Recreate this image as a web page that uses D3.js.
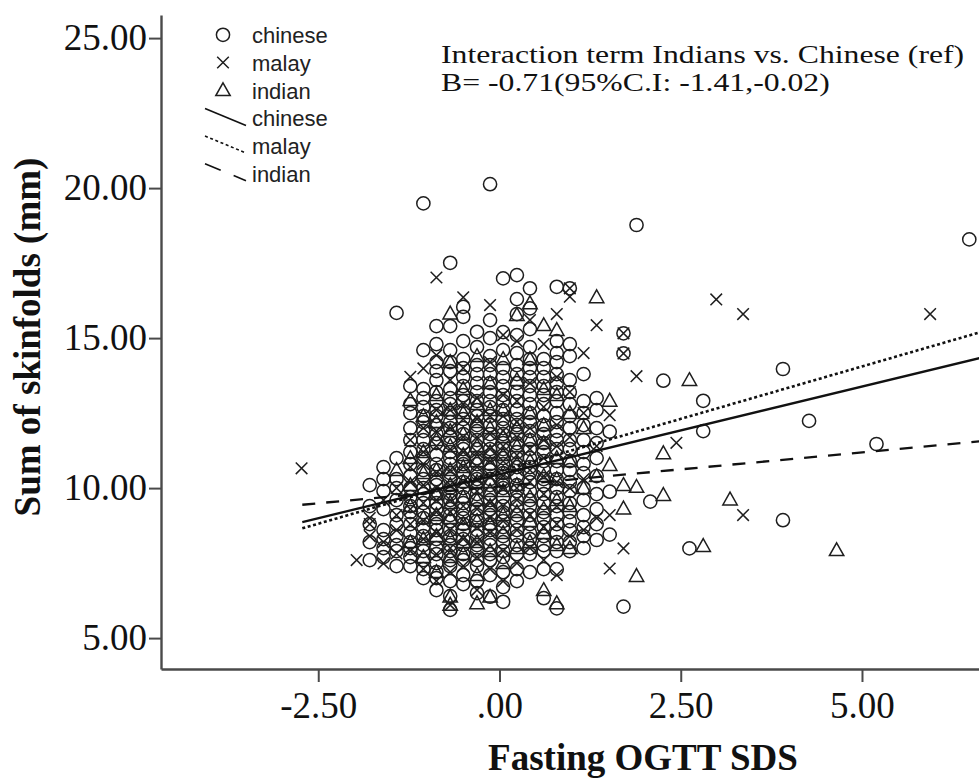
<!DOCTYPE html>
<html>
<head>
<meta charset="utf-8">
<script src="https://cdn.jsdelivr.net/npm/d3@7"></script>
<style>
  body { margin: 0; background: #fff; }
  svg { display: block; }
</style>
</head>
<body>
<svg id="chart" width="979" height="783"></svg>
<script>
// ---- data ---------------------------------------------------------------
const groups = ["chinese", "malay", "indian"];

const xTicks = [-2.5, 0, 2.5, 5];
const xTickLabels = ["-2.50", ".00", "2.50", "5.00"];
const yTicks = [5, 10, 15, 20, 25];
const yTickLabels = ["5.00", "10.00", "15.00", "20.00", "25.00"];

// [Fasting OGTT SDS, [sum of skinfolds ...]] per observed SDS value
const chineseCols = [
  [-1.79, [10.1, 9.4, 8.8, 8.2, 7.6]],
  [-1.60, [10.7, 10.3, 9.9, 9.3, 8.6, 8.3, 8.0, 7.7]],
  [-1.42, [15.84, 11.0, 10.3, 10.0, 9.6, 9.1, 8.8, 8.4, 8.1, 7.9, 7.4]],
  [-1.23, [13.4, 12.8, 12.5, 12.0, 11.6, 11.2, 10.8, 10.4, 10.0, 9.7, 9.4, 9.2, 8.8, 8.5, 8.2, 8.0, 7.7, 7.4]],
  [-1.05, [19.49, 14.6, 13.3, 13.0, 12.7, 12.4, 12.2, 11.9, 11.6, 11.3, 11.0, 10.6, 10.3, 10.0, 9.8, 9.5, 9.2, 9.0, 8.7, 8.4, 8.1, 7.9, 7.6, 7.3, 7.0]],
  [-0.87, [15.4, 14.8, 14.2, 13.9, 13.6, 13.2, 12.9, 12.6, 12.4, 12.1, 11.8, 11.5, 11.1, 10.8, 10.6, 10.3, 10.1, 9.8, 9.5, 9.3, 9.0, 8.8, 8.6, 8.3, 8.0, 7.8, 7.5, 7.2, 7.0, 6.6]],
  [-0.68, [17.51, 15.4, 14.6, 14.2, 13.9, 13.3, 13.0, 12.8, 12.5, 12.2, 12.0, 11.7, 11.5, 11.2, 11.0, 10.8, 10.5, 10.3, 10.0, 9.8, 9.6, 9.3, 9.1, 8.9, 8.6, 8.4, 8.1, 7.9, 7.6, 7.4, 6.9, 6.4, 5.94]],
  [-0.50, [16.04, 15.71, 14.9, 14.3, 14.0, 13.7, 13.4, 13.1, 12.9, 12.6, 12.3, 12.0, 11.8, 11.5, 11.3, 11.0, 10.8, 10.5, 10.2, 10.0, 9.7, 9.5, 9.3, 9.0, 8.8, 8.6, 8.3, 8.1, 7.8, 7.6, 7.1, 6.8]],
  [-0.31, [15.21, 14.7, 14.1, 13.8, 13.5, 13.2, 12.9, 12.6, 12.4, 12.1, 11.9, 11.6, 11.3, 11.0, 10.8, 10.5, 10.3, 10.0, 9.8, 9.6, 9.3, 9.1, 8.9, 8.6, 8.4, 8.1, 7.9, 7.6, 7.4, 6.9, 6.5]],
  [-0.13, [20.13, 15.6, 15.0, 14.4, 14.1, 13.8, 13.5, 13.2, 12.9, 12.7, 12.4, 12.1, 11.8, 11.6, 11.3, 11.1, 10.8, 10.6, 10.3, 10.1, 9.8, 9.6, 9.3, 9.1, 8.8, 8.6, 8.3, 8.1, 7.8, 7.6, 7.1, 6.38]],
  [0.05, [16.99, 15.2, 14.6, 14.0, 13.7, 13.4, 13.1, 12.9, 12.6, 12.3, 12.0, 11.8, 11.5, 11.3, 11.0, 10.8, 10.5, 10.2, 10.0, 9.7, 9.4, 9.2, 8.9, 8.7, 8.4, 8.2, 7.9, 7.7, 7.2, 6.7, 6.21]],
  [0.24, [17.1, 16.3, 15.8, 15.1, 14.5, 14.1, 13.8, 13.5, 13.2, 12.9, 12.6, 12.3, 12.1, 11.8, 11.5, 11.2, 11.0, 10.7, 10.4, 10.1, 9.9, 9.6, 9.4, 9.1, 8.9, 8.6, 8.4, 8.1, 7.8, 7.3, 6.9]],
  [0.42, [16.66, 15.99, 15.3, 14.7, 14.3, 14.0, 13.7, 13.4, 13.1, 12.8, 12.5, 12.2, 11.9, 11.6, 11.3, 11.0, 10.7, 10.5, 10.2, 9.9, 9.6, 9.4, 9.1, 8.8, 8.5, 8.3, 8.0, 7.8, 7.2]],
  [0.61, [14.3, 14.0, 13.7, 13.4, 13.1, 12.8, 12.4, 12.1, 11.8, 11.5, 11.2, 10.9, 10.6, 10.3, 10.1, 9.8, 9.5, 9.2, 9.0, 8.7, 8.4, 8.1, 7.9, 7.3, 6.33]],
  [0.79, [16.71, 14.9, 14.5, 14.2, 13.8, 13.5, 13.2, 12.9, 12.5, 12.2, 11.9, 11.6, 11.3, 10.9, 10.6, 10.3, 10.0, 9.7, 9.4, 9.1, 8.8, 8.5, 8.2, 7.9, 7.3, 5.99]],
  [0.97, [16.66, 14.8, 14.4, 13.6, 13.2, 12.8, 12.4, 12.0, 11.6, 11.3, 10.9, 10.6, 10.2, 9.9, 9.5, 9.2, 8.9, 8.6, 8.2, 7.9]],
  [1.16, [13.8, 12.9, 12.5, 12.1, 11.6, 11.2, 10.8, 10.5, 10.0, 9.6, 9.1, 8.7, 8.4, 8.0]],
  [1.34, [13.0, 12.6, 12.0, 11.5, 11.0, 10.4, 9.8, 9.3, 8.8, 8.27]],
  [1.52, [11.88, 9.88, 8.45]],
  [1.71, [15.16, 14.49, 6.05]],
  [1.89, [18.77]],
  [2.08, [9.55]],
  [2.26, [13.58]],
  [2.62, [7.99]],
  [2.81, [12.91, 11.9]],
  [3.91, [13.97, 8.93]],
  [4.27, [12.24]],
  [5.20, [11.47]],
  [6.48, [18.29]]
];

const malayCols = [
  [-2.73, [10.66]],
  [-1.97, [7.6]],
  [-1.79, [9.0, 8.8, 8.4]],
  [-1.60, [9.6, 8.2, 7.49]],
  [-1.42, [10.0, 9.1, 8.6, 7.82]],
  [-1.23, [13.71, 11.6, 10.7, 10.2, 9.3, 8.8, 7.9]],
  [-1.05, [13.99, 12.0, 11.2, 10.8, 10.1, 9.5, 8.9, 8.3, 7.3]],
  [-0.87, [17.02, 14.43, 12.6, 11.9, 11.4, 10.5, 10.0, 9.6, 9.2, 8.5, 7.8, 6.9]],
  [-0.68, [13.6, 12.6, 12.0, 11.3, 10.6, 10.1, 9.6, 9.2, 8.6, 8.0, 7.2, 6.1]],
  [-0.50, [16.36, 14.0, 12.8, 12.3, 11.7, 11.2, 10.7, 10.2, 9.4, 8.9, 8.3, 7.4]],
  [-0.31, [13.0, 12.3, 11.7, 11.2, 10.7, 10.3, 9.9, 9.3, 8.7, 8.2, 7.7, 6.6]],
  [-0.13, [16.1, 14.2, 12.4, 11.8, 11.3, 10.9, 10.4, 9.5, 9.0, 8.5, 7.3]],
  [0.05, [15.1, 13.1, 12.4, 11.9, 11.4, 10.9, 10.4, 10.0, 9.4, 8.9, 7.9, 6.9]],
  [0.24, [14.9, 12.9, 12.2, 11.7, 11.1, 10.6, 10.0, 9.6, 8.6, 7.5]],
  [0.42, [15.6, 13.5, 12.0, 11.3, 10.6, 10.2, 9.1, 8.0]],
  [0.61, [14.8, 12.7, 11.6, 11.0, 10.4, 9.8, 8.7, 7.6]],
  [0.79, [15.8, 13.7, 12.1, 11.4, 10.2, 9.4, 8.8, 7.1]],
  [0.97, [16.66, 16.38, 13.2, 11.7, 10.0, 8.4]],
  [1.16, [14.5, 12.5, 10.3, 8.6]],
  [1.34, [15.43, 11.4, 9.0]],
  [1.52, [12.43, 9.1, 7.32]],
  [1.71, [15.16, 14.49, 7.99]],
  [1.89, [13.73]],
  [2.44, [11.51]],
  [2.99, [16.29]],
  [3.36, [15.8, 9.1]],
  [5.94, [15.8]]
];

const indianCols = [
  [-1.42, [10.6]],
  [-1.23, [12.93, 11.0, 10.1, 9.4, 8.2]],
  [-1.05, [12.4, 11.2, 10.5, 9.0, 8.3, 7.7]],
  [-0.87, [13.1, 12.2, 11.6, 10.6, 9.8, 9.1, 8.4, 7.2]],
  [-0.68, [15.82, 14.2, 12.6, 11.9, 11.4, 10.6, 10.1, 9.5, 9.0, 8.3, 7.7, 6.38, 6.11]],
  [-0.50, [13.3, 12.5, 11.8, 11.1, 10.7, 10.2, 9.7, 8.8, 8.2, 7.8]],
  [-0.31, [14.4, 12.8, 12.2, 11.4, 10.9, 10.2, 9.6, 8.9, 8.2, 7.1, 6.16]],
  [-0.13, [13.5, 12.6, 12.0, 11.2, 10.8, 10.2, 9.9, 9.4, 8.8, 7.9, 6.38]],
  [0.05, [14.3, 12.6, 11.7, 11.1, 10.5, 9.9, 9.1, 8.5, 7.5]],
  [0.24, [15.77, 13.6, 12.0, 11.4, 10.8, 10.1, 9.2, 8.0]],
  [0.42, [16.16, 14.3, 12.5, 11.6, 10.9, 9.7, 8.9, 8.2]],
  [0.61, [15.43, 13.3, 12.1, 11.5, 10.4, 9.3, 8.5, 6.6]],
  [0.79, [15.27, 13.1, 11.0, 10.3, 9.6, 8.1, 6.16]],
  [0.97, [12.5, 10.9, 9.4, 8.0]],
  [1.16, [12.0, 10.0]],
  [1.34, [16.36, 10.4]],
  [1.52, [12.91, 10.77]],
  [1.71, [10.1, 9.32]],
  [1.89, [10.04, 7.07]],
  [2.26, [11.16, 9.77]],
  [2.62, [13.6]],
  [2.81, [8.07]],
  [3.18, [9.62]],
  [4.65, [7.93]]
];

// linear fit per group: value at SDS 0 and slope, drawn over the observed SDS span
const fitIntercepts = [10.46, 10.56, 10.06];
const fitSlopes = [0.585, 0.699, 0.226];
const fitSpan = [-2.72, 6.62];

const noteLines = [
  "Interaction term Indians vs. Chinese (ref)",
  "B= -0.71(95%C.I: -1.41,-0.02)"
];

// ---- layout -------------------------------------------------------------
const svg = d3.select("#chart");
const ink = "#1e1e1e";
const axisInk = "#4a4a4a";
const serif = "'Liberation Serif', 'Times New Roman', serif";
const sans = "'Liberation Sans', Arial, sans-serif";

const x = d3.scaleLinear().domain([-4.669, 6.614]).range([161, 979]);
const y = d3.scaleLinear().domain([3.97, 25.77]).range([669, 15]);

svg.append("defs").append("clipPath").attr("id", "plot-clip")
  .append("rect").attr("x", 161).attr("y", 10).attr("width", 818).attr("height", 659);

// marker shapes
const markerPath = {
  malay: "M-5.8,-5.8L5.8,5.8M-5.8,5.8L5.8,-5.8",
  indian: "M0,-7.4L7.2,5.4L-7.2,5.4Z"
};
const lineDash = { chinese: null, malay: "3,2.6", indian: "13,11" };

function drawMarker(sel, group) {
  if (group === "chinese") {
    sel.append("circle").attr("r", 6.6);
  } else {
    sel.append("path").attr("d", markerPath[group]);
  }
}

// ---- scatter ------------------------------------------------------------
const flatten = cols => cols.flatMap(([sx, ys]) => ys.map(v => ({ x: sx, y: v })));
const groupPoints = [flatten(chineseCols), flatten(malayCols), flatten(indianCols)];

const plot = svg.append("g").attr("clip-path", "url(#plot-clip)");

groups.forEach((g, i) => {
  const layer = plot.append("g")
    .attr("fill", "none").attr("stroke", ink).attr("stroke-width", 1.5);
  layer.selectAll("g.pt").data(groupPoints[i]).join("g")
    .attr("class", "pt")
    .attr("transform", d => `translate(${x(d.x)},${y(d.y)})`)
    .each(function () { drawMarker(d3.select(this), g); });
});

// ---- fit lines ----------------------------------------------------------
const fitLine = d3.line().x(d => x(d[0])).y(d => y(d[1]));
groups.forEach((g, i) => {
  const pts = fitSpan.map(v => [v, fitIntercepts[i] + fitSlopes[i] * v]);
  plot.append("path")
    .attr("d", fitLine(pts))
    .attr("fill", "none")
    .attr("stroke", "#111")
    .attr("stroke-width", g === "malay" ? 2.6 : 2.3)
    .attr("stroke-dasharray", lineDash[g]);
});

// ---- axes ---------------------------------------------------------------
const yAxis = d3.axisLeft(y)
  .tickValues(yTicks)
  .tickFormat((d, i) => yTickLabels[i])
  .tickSize(12).tickSizeOuter(0).tickPadding(2);
const xAxis = d3.axisBottom(x)
  .tickValues(xTicks)
  .tickFormat((d, i) => xTickLabels[i])
  .tickSize(13).tickSizeOuter(0).tickPadding(10);

const gy = svg.append("g").attr("transform", "translate(161,0)").call(yAxis);
const gx = svg.append("g").attr("transform", "translate(0,669)").call(xAxis);

[gx, gy].forEach(ax => {
  ax.select(".domain").attr("stroke", axisInk).attr("stroke-width", 2.4);
  ax.selectAll(".tick line").attr("stroke", axisInk).attr("stroke-width", 2);
  ax.selectAll(".tick text")
    .attr("fill", "#111")
    .style("font-family", serif)
    .style("font-size", "37px");
});

// axis titles
svg.append("text")
  .attr("x", 643).attr("y", 770)
  .attr("text-anchor", "middle")
  .style("font-family", serif).style("font-weight", "bold").style("font-size", "37px")
  .attr("fill", "#111")
  .text("Fasting OGTT SDS");

svg.append("text")
  .attr("transform", "translate(40,337) rotate(-90)")
  .attr("text-anchor", "middle")
  .style("font-family", serif).style("font-weight", "bold").style("font-size", "37px")
  .attr("fill", "#111")
  .text("Sum of skinfolds (mm)");

// ---- legend -------------------------------------------------------------
const legend = svg.append("g");
const rowBase = [43.3, 71, 98.7, 126.4, 154, 181.7];

groups.forEach((g, i) => {
  const mk = legend.append("g")
    .attr("transform", `translate(223,${rowBase[i] - 8.5})`)
    .attr("fill", "none").attr("stroke", ink).attr("stroke-width", 1.5);
  drawMarker(mk, g);
});
groups.forEach((g, i) => {
  const yb = rowBase[i + 3];
  legend.append("line")
    .attr("x1", 205).attr("y1", yb - 18)
    .attr("x2", 246).attr("y2", yb - 1)
    .attr("stroke", "#111")
    .attr("stroke-width", 1.6)
    .attr("stroke-dasharray", g === "indian" ? "17,14" : lineDash[g]);
});
legend.selectAll("text.lab").data([...groups, ...groups]).join("text")
  .attr("class", "lab")
  .attr("x", 252)
  .attr("y", (d, i) => rowBase[i])
  .style("font-family", sans).style("font-size", "22px")
  .attr("fill", "#222")
  .text(d => d);

// ---- annotation ---------------------------------------------------------
const note = svg.append("g").attr("transform", "translate(441,0) scale(1.22,1)");
note.selectAll("text").data(noteLines).join("text")
  .attr("x", 0)
  .attr("y", (d, i) => 63 + i * 28)
  .style("font-family", serif).style("font-size", "26px")
  .attr("fill", "#111")
  .text(d => d);
</script>
</body>
</html>
